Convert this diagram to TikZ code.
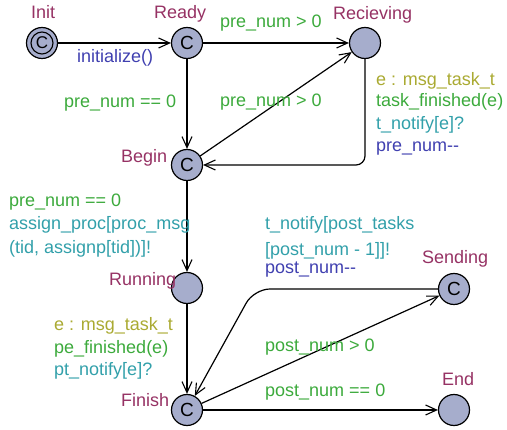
\documentclass[tikz,border=0pt]{standalone}
\usepackage{fontspec}
\setmainfont{Liberation Sans}
\usetikzlibrary{arrows.meta}
\definecolor{locfill}{RGB}{166,173,204}
\definecolor{namecol}{RGB}{150,50,100}
\definecolor{guardcol}{RGB}{60,170,60}
\definecolor{synccol}{RGB}{50,160,170}
\definecolor{updcol}{RGB}{64,64,176}
\definecolor{selcol}{RGB}{170,170,50}
\begin{document}
\begin{tikzpicture}[x=1pt,y=-1pt,
  font=\fontsize{18}{20}\selectfont,
  loc/.style={circle,draw,fill=locfill,minimum size=31pt,inner sep=0pt,line width=1.2pt},
  lbl/.style={anchor=base west,inner sep=0pt},
  locname/.style={lbl,text=namecol},
  guard/.style={lbl,text=guardcol},
  syncl/.style={lbl,text=synccol},
  upd/.style={lbl,text=updcol},
  sel/.style={lbl,text=selcol},
  edge/.style={draw,line width=1.2pt,-{Straight Barb[length=11pt,width=10pt,line width=1.1pt]}}]
\useasboundingbox (0,0) rectangle (507,430);
% locations
\node[loc] (init) at (42,43) {};
\draw[line width=1.1pt] (init.center) circle (11pt);
\node at (init.center) {\fontsize{17}{17}\selectfont C};
\node[loc] (ready) at (187,43) {\fontsize{19}{19}\selectfont C};
\node[loc] (recv) at (365,43) {};
\node[loc] (begin) at (187,165) {\fontsize{19}{19}\selectfont C};
\node[loc] (running) at (187,288) {};
\node[loc] (finish) at (187,410) {\fontsize{19}{19}\selectfont C};
\node[loc] (sending) at (454,289) {\fontsize{19}{19}\selectfont C};
\node[loc] (end) at (454,410) {};
% names
\node[locname] (nInit) at (31,19) {Init};
\node[locname] (nReady) at (154,19) {Ready};
\node[locname] (nRecv) at (333,20) {Recieving};
\node[locname] (nBegin) at (121,163) {Begin};
\node[locname] (nRunning) at (109,286) {Running};
\node[locname] (nFinish) at (121,407) {Finish};
\node[locname] (nSending) at (422,264) {Sending};
\node[locname] (nEnd) at (442,386) {End};
% edges
\coordinate (c1) at (365,165);
\coordinate (c2) at (254,289);
\path[edge] (init) -- (ready);
\path[edge] (ready) -- (recv);
\path[edge] (ready) -- (begin);
\path[edge] (begin) -- (recv);
\path[edge,rounded corners=9pt] (recv) -- (c1) -- (begin);
\path[edge] (begin) -- (running);
\path[edge] (running) -- (finish);
\path[edge] (finish) -- (sending);
\path[edge,rounded corners=16pt] (sending) -- (c2) -- (finish);
\path[edge] (finish) -- (end);
% edge labels
\node[upd] (l1) at (77,63) {initialize()};
\node[guard] (l2) at (220,28) {pre\_num > 0};
\node[guard] (l3) at (64,108) {pre\_num == 0};
\node[guard] (l4) at (220,107) {pre\_num > 0};
\node[sel] (l5) at (376,86) {e : msg\_task\_t};
\node[guard] (l6) at (376,107) {task\_finished(e)};
\node[syncl] (l7) at (376,130) {t\_notify[e]?};
\node[upd] (l8) at (376,152) {pre\_num-{}-};
\node[guard] (l9) at (9,207) {pre\_num == 0};
\node[syncl] (l10) at (9,230) {assign\_proc[proc\_msg};
\node[syncl] (l11) at (9,254) {(tid, assignp[tid])]!};
\node[sel] (l12) at (54,331) {e : msg\_task\_t};
\node[guard] (l13) at (54,354) {pe\_finished(e)};
\node[syncl] (l14) at (54,376) {pt\_notify[e]?};
\node[syncl] (l15) at (265,230) {t\_notify[post\_tasks};
\node[syncl] (l16) at (265,256) {[post\_num - 1]]!};
\node[upd] (l17) at (265,274) {post\_num-{}-};
\node[guard] (l18) at (265,352) {post\_num > 0};
\node[guard] (l19) at (265,397) {post\_num == 0};
\end{tikzpicture}
\end{document}
